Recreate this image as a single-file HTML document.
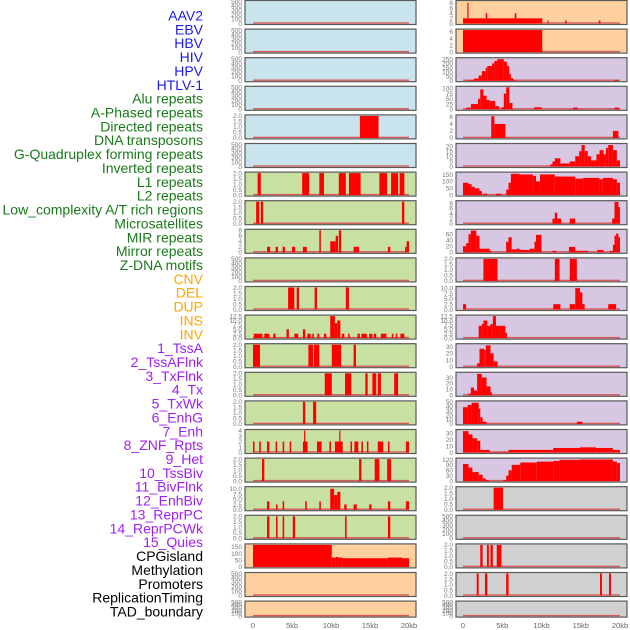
<!DOCTYPE html>
<html><head><meta charset="utf-8">
<style>
html,body{margin:0;padding:0;background:#fff;width:630px;height:630px;overflow:hidden}
svg{display:block;font-family:"Liberation Sans",sans-serif}
</style></head>
<body>
<svg id="chart" width="630" height="630" viewBox="0 0 630 630"></svg>
<script>
// ---------- data ----------
const trackLabels = ["AAV2","EBV","HBV","HIV","HPV","HTLV-1","Alu repeats","A-Phased repeats","Directed repeats","DNA transposons","G-Quadruplex forming repeats","Inverted repeats","L1 repeats","L2 repeats","Low_complexity A/T rich regions","Microsatellites","MIR repeats","Mirror repeats","Z-DNA motifs","CNV","DEL","DUP","INS","INV","1_TssA","2_TssAFlnk","3_TxFlnk","4_Tx","5_TxWk","6_EnhG","7_Enh","8_ZNF_Rpts","9_Het","10_TssBiv","11_BivFlnk","12_EnhBiv","13_ReprPC","14_ReprPCWk","15_Quies","CPGisland","Methylation","Promoters","ReplicationTiming","TAD_boundary"];
const labelGroups = [0,0,0,0,0,0,1,1,1,1,1,1,1,1,1,1,1,1,1,2,2,2,2,2,3,3,3,3,3,3,3,3,3,3,3,3,3,3,3,4,4,4,4,4];
const xTickValues = [0,5,10,15,20];
const xTickLabels = ["0","5kb","10kb","15kb","20kb"];

const T500=[0,100,200,300,400,500], T2=[0,0.5,1,1.5,2], T8=[0,2,4,6,8], T6=[0,2,4,6],
      T12=[0,2.5,5,7.5,10,12.5], T10=[0,2.5,5,7.5,10], T4=[0,1,2,3,4], T150=[0,50,100,150],
      T250=[0,50,100,150,200,250], T100=[0,25,50,75,100], T20=[0,5,10,15,20], T60=[0,20,40,60],
      T30=[0,10,20,30], T50=[0,10,20,30,40,50], T120=[0,30,60,90,120];

// segments: [startKb, endKb, value]
const segL04=[[13.7,16.1,2]];
const segL06=[[0.6,1.0,2],[6.3,7.2,2],[8.5,9.1,2],[11.0,11.9,2],[12.3,13.8,2],[16.2,17.2,2],[17.7,18.6,2],[18.8,19.4,2]];
const segL07=[[0.4,0.8,2],[1.0,1.3,2],[19.1,19.4,2]];
const segL08=[[1.8,2.2,2],[2.9,3.2,2],[3.8,4.1,2],[5.0,5.4,2],[6.4,6.9,2],[8.5,8.7,8],[9.9,10.6,4],[10.6,10.9,6],[11.0,11.3,8],[12.9,13.6,2],[17.3,17.6,2],[19.5,19.7,2],[19.7,20.0,4]];
const segL10=[[4.5,5.3,2],[5.6,5.9,2],[7.9,8.2,2],[11.9,12.3,2]];
const segL11=[[0.1,1.2,2.5],[1.45,2.1,2.5],[2.6,2.9,2.5],[4.3,4.6,5],[5.3,5.8,2.5],[6.4,6.7,5],[6.96,7.4,2.5],[7.6,7.8,2.5],[8.25,8.5,2.5],[9.1,9.4,2.5],[9.9,10.5,12.5],[10.5,10.8,8.5],[10.8,11.2,10],[11.4,11.7,2.5],[12.2,12.4,2.5],[13.4,13.7,2.5],[13.9,14.6,2.5],[14.9,15.3,2.5],[15.5,15.8,2.5],[16.4,17.1,2.5],[17.8,18.0,2.5],[18.3,18.5,2.5],[18.9,19.4,2.5]];
const segL12=[[0,0.9,2],[7.1,7.7,2],[7.8,8.5,2],[10.1,11.3,2],[12.9,13.2,2]];
const segL13=[[9.2,10.1,2],[11.8,12.6,2],[14.4,14.7,2],[15.3,15.8,2],[16.0,16.4,2],[18.1,18.6,2]];
const segL14=[[6.4,6.7,2],[7.7,8.1,2]];
const segL15=[[0,0.2,2],[0.8,1.0,2],[1.8,2.1,2],[2.9,3.1,2],[3.8,4.0,2],[4.7,4.9,2],[6.4,7.0,2],[6.55,6.7,4],[8.2,8.8,2],[9.8,10.0,2],[10.5,11.5,2],[11.05,11.2,4],[12.5,12.7,2],[13.0,13.5,2],[13.9,14.1,2],[14.6,14.8,2],[16.0,16.7,2],[17.3,17.5,2],[19.6,20.0,2]];
const segL16=[[1.15,1.45,2],[13.6,13.9,2],[15.6,16.2,2],[17.2,17.7,2]];
const segL17=[[1.8,2.1,4],[2.95,3.15,2.5],[3.8,4.0,4],[6.7,6.9,4],[8.5,8.7,4],[9.9,10.4,10],[10.4,10.8,7],[10.8,11.2,8.5],[11.7,12.0,2.5],[12.9,13.3,2.5],[14.9,15.2,2.5],[17.3,17.6,4],[19.6,20.0,4]];
const segL18=[[1.8,2.1,2],[2.95,3.15,2],[3.8,4.0,2],[5.1,5.4,2],[11.8,12.0,2],[17.3,17.6,2]];
const segL19=[[0,10.1,165],[10.1,10.6,70],[10.6,10.9,75],[10.9,11.5,70],[11.5,17.3,65],[17.3,19.1,70],[19.1,20.0,65]];

const segR00=[[0,10.1,2],[0.55,0.7,8],[2.9,3.1,4],[6.6,6.8,4],[10.75,10.9,1.2],[13.0,13.2,1.2],[17.3,17.5,1.2]];
const segR01=[[0,10.1,6.5]];
const segR02=[[0.2,0.9,3],[0.9,1.4,10],[1.4,2.0,25],[2.0,2.4,60],[2.4,2.9,110],[2.9,3.1,150],[3.1,3.7,170],[3.7,4.0,200],[4.0,4.4,230],[4.4,5.2,250],[5.2,5.6,220],[5.6,5.9,170],[5.9,6.1,80],[6.1,6.4,30],[6.4,6.8,8],[19.3,19.8,8]];
const segR03=[[0.4,1.0,8],[1.0,1.9,25],[1.9,2.2,50],[2.2,2.6,95],[2.6,3.0,65],[3.0,3.4,45],[3.4,4.1,40],[4.1,4.6,15],[4.9,5.2,10],[5.2,5.5,75],[5.5,5.9,105],[5.9,6.3,30],[9.1,10.0,10],[14.0,14.6,8],[19.3,19.9,8]];
const segR04=[[3.6,4.0,6.2],[4.0,5.4,4],[19.1,19.8,2]];
const segR05=[[11.1,11.4,2],[11.4,11.7,5],[11.7,12.4,8],[12.4,13.6,3],[13.6,14.3,5],[14.3,14.8,10],[14.8,15.1,15],[15.1,15.5,21],[15.5,15.9,15],[15.9,16.3,10],[16.3,17.0,6],[17.0,17.4,12],[17.4,17.9,16],[17.9,18.2,12],[18.2,18.5,18],[18.5,19.1,21],[19.1,19.6,16],[19.6,20.0,6]];
const segR06=[[0,0.7,90],[0.7,1.1,80],[1.1,1.5,60],[1.5,2.1,50],[2.1,2.4,30],[2.6,3.1,10],[4.2,4.9,10],[5.5,5.8,40],[5.8,6.1,90],[6.1,7.2,155],[7.2,8.9,150],[8.9,9.3,140],[9.3,9.8,100],[9.8,11.7,150],[11.7,14.3,135],[14.3,15.3,120],[15.3,17.4,125],[17.4,17.8,115],[17.8,19.1,125],[19.1,19.6,115],[19.6,20.0,90]];
const segR07=[[11.4,11.7,2],[11.7,12.0,4.3],[12.0,12.5,2],[13.6,14.3,2],[19.0,19.3,2],[19.3,19.8,8.5],[19.8,20.0,6.5]];
const segR08=[[0,0.4,20],[0.4,0.7,30],[0.7,1.0,60],[1.0,1.7,72],[1.7,2.1,55],[2.1,3.4,12],[3.4,3.6,5],[5.5,5.8,35],[5.8,6.2,50],[6.2,6.8,10],[6.8,7.2,12],[7.2,8.5,8],[8.5,9.1,12],[9.1,9.3,35],[9.3,10.0,58],[11.4,11.9,5],[13.5,14.3,18],[14.3,15.9,5],[17.1,17.9,8],[18.7,19.1,5],[19.1,19.3,25],[19.3,19.5,55],[19.5,19.8,62],[19.8,20.0,50]];
const segR09=[[2.6,4.4,2],[11.7,12.3,2],[13.6,14.5,2]];
const segR10=[[0,0.4,2.5],[11.5,12.4,2.5],[13.6,14.3,2.5],[14.3,14.9,10],[14.9,15.2,8],[15.2,15.5,2.5],[18.5,19.5,2.5]];
const segR11=[[2.0,2.4,7],[2.4,2.6,8],[2.6,3.1,10],[3.1,3.5,7],[3.5,3.8,8],[3.8,4.2,12.5],[4.2,4.7,7],[4.7,5.4,7],[5.4,5.6,3]];
const segR12=[[1.8,2.1,5],[2.1,2.7,27],[2.7,2.9,25],[2.9,3.5,32],[3.5,3.9,20],[3.9,4.4,8]];
const segR13=[[0.7,1.0,3],[1.0,1.4,13],[1.4,1.8,8],[1.8,2.4,36],[2.4,3.0,30],[3.0,3.5,15],[3.5,3.7,5]];
const segR14=[[0,0.6,38],[0.6,1.1,43],[1.1,2.0,48],[2.0,2.2,35],[2.2,2.5,15],[2.5,3.0,5],[14.5,15.2,5]];
const segR15=[[0,0.7,33],[0.7,1.2,28],[1.2,1.8,22],[1.8,2.2,18],[2.2,3.4,4],[3.4,5.8,1],[5.8,11.5,4],[11.5,14.9,7],[14.9,16.9,8],[16.9,19.1,7],[19.1,20.0,4]];
const segR16=[[0,0.7,95],[0.7,1.2,75],[1.2,2.0,50],[2.0,2.5,35],[2.5,2.9,15],[2.9,3.3,5],[5.1,5.5,5],[5.5,5.8,30],[5.8,6.2,60],[6.2,7.3,90],[7.3,9.4,103],[9.4,11.5,108],[11.5,12.3,112],[12.3,14.9,118],[14.9,19.1,120],[19.1,19.6,108],[19.6,20.0,100]];
const segR17=[[3.9,5.1,2]];
const segR19=[[2.2,2.5,2],[3.05,3.3,2],[3.5,3.8,2],[4.3,4.9,2]];
const segR20=[[1.75,2.0,2],[2.8,3.1,2],[5.5,5.8,2],[17.45,17.7,2],[18.6,18.85,2]];

// ---------- layout ----------
const leftPanels=[
 ["blue",T500,500,[]],["blue",T500,500,[]],["blue",T500,500,[]],["blue",T500,500,[]],
 ["blue",T2,2,segL04],["blue",T500,500,[]],
 ["green",T2,2,segL06],["green",T2,2,segL07],["green",T8,8,segL08],["green",T500,500,[]],
 ["green",T2,2,segL10],["green",T12,12.5,segL11],["green",T2,2,segL12],["green",T2,2,segL13],
 ["green",T2,2,segL14],["green",T4,4,segL15],["green",T2,2,segL16],["green",T10,10.5,segL17],
 ["green",T2,2,segL18],["peach",T150,165,segL19],["peach",T500,500,[]],["peach",T500,500,[]]
];
const rightPanels=[
 ["peach",T8,8.5,segR00],["peach",T6,6.5,segR01],
 ["purple",T250,255,segR02],["purple",T100,105,segR03],["purple",T6,6.3,segR04],["purple",T20,21.5,segR05],
 ["purple",T150,160,segR06],["purple",T8,8.6,segR07],["purple",T60,73,segR08],["purple",T2,2,segR09],
 ["purple",T10,10.3,segR10],["purple",T12,12.5,segR11],["purple",T30,33,segR12],["purple",T30,37,segR13],
 ["purple",T50,50,segR14],["purple",T30,34,segR15],
 ["purple",T120,122,segR16],["gray",T2,2,segR17],["gray",T500,500,[]],["gray",T2,2,segR19],["gray",T2,2,segR20],["gray",T500,500,[]]
];

// ---------- rendering ----------
const NS="http://www.w3.org/2000/svg";
const svg=document.getElementById('chart');
const BG={blue:"#c9e4ec",green:"#c8e0a2",peach:"#fed09e",purple:"#d8c7e2",gray:"#d0d0d0"};
const LABEL_COLORS=["#1a1aee","#1a7a1a","#ffa500","#a020f0","#000000"];
function mk(tag,attrs,parent){const e=document.createElementNS(NS,tag);for(const k in attrs)e.setAttribute(k,attrs[k]);(parent||svg).appendChild(e);return e;}
function slug(s){return s.toLowerCase().replace(/[^a-z0-9]+/g,'-').replace(/^-|-$/g,'');}

const labelGroup=mk('g',{});


trackLabels.forEach((t,i)=>{
  const el=mk('text',{x:203,y:(20.5+13.86*i).toFixed(1),'text-anchor':'end','font-size':'14',fill:LABEL_COLORS[labelGroups[i]]},labelGroup);
  el.textContent=t;
  
  
});

function xScale(col,kb){return col===0?253+kb*7.8:463+kb*7.85;}
function fmt(v,ticks){return ticks.some(t=>t%1!==0)?v.toFixed(1):String(v);}

function drawPanel(col,row,p,name){
  const [bgKey,ticks,ymax,segs]=p;
  const x0=col===0?245:456, w=171;
  const top=row*28.6+0.5, h=row===21?16:24;
  const yScale=v=>top+h-1-(v/ymax)*(h-2);
  const g=mk('g',{});
  
  
  const bg=mk('rect',{x:x0,y:top,width:w,height:h,fill:BG[bgKey],stroke:'#5a5a5a','stroke-width':1.2},g);
  
  
  const base=mk('rect',{x:xScale(col,0),y:top+h-2.2,width:xScale(col,20)-xScale(col,0),height:1.4,fill:'#d65a5a'},g);
  
  
  segs.forEach(s=>{
    const x1=xScale(col,s[0]),x2=xScale(col,s[1]),y=yScale(Math.min(s[2],ymax));
    const r=mk('rect',{x:x1.toFixed(2),y:y.toFixed(2),width:Math.max(1.2,x2-x1).toFixed(2),height:(top+h-1-y).toFixed(2),fill:'#ff0000'},g);
    
    
  });
  ticks.forEach(t=>{
    const ty=yScale(t);
    const tl=mk('text',{x:x0-3,y:(ty+2.3).toFixed(1),'text-anchor':'end','font-size':'6.5',fill:'#777'},g);
    tl.textContent=fmt(t,ticks);
    
    
  });
}
leftPanels.forEach((p,i)=>drawPanel(0,i,p,slug(trackLabels[i])));
rightPanels.forEach((p,i)=>drawPanel(1,i,p,slug(trackLabels[22+i])));

[0,1].forEach(col=>{
  const ax=mk('g',{});
  
  
  xTickValues.forEach((v,i)=>{
    const t=mk('text',{x:xScale(col,v).toFixed(1),y:628,'text-anchor':'middle','font-size':'7.5',fill:'#666'},ax);
    t.textContent=xTickLabels[i];
    
    
  });
});
</script>
</body></html>
